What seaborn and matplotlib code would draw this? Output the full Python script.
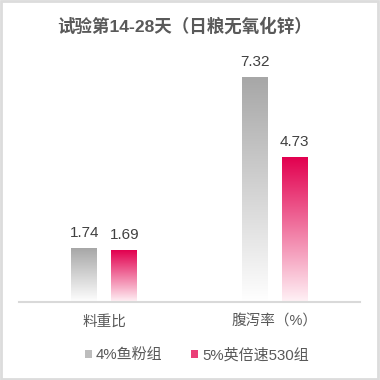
import numpy as np
import pandas as pd
import matplotlib
matplotlib.use("Agg")
import matplotlib.pyplot as plt
from matplotlib.colors import LinearSegmentedColormap
from matplotlib.patches import Rectangle, Patch
import seaborn as sns

title = "试验第14-28天（日粮无氧化锌）"
categories = ["料重比", "腹泻率（%）"]
series = ["4%鱼粉组", "5%英倍速530组"]
fishmeal = [1.74, 7.32]
yingbeisu = [1.69, 4.73]
value_labels_fish = ["1.74", "7.32"]
value_labels_ying = ["1.69", "4.73"]

df = pd.DataFrame({
    "cat": categories * 2,
    "group": [series[0]] * 2 + [series[1]] * 2,
    "val": fishmeal + yingbeisu,
})

sns.set_theme(style="white")
plt.rcParams['font.family'] = ['Liberation Sans', 'Noto Sans CJK SC', 'DejaVu Sans']

fig = plt.figure(figsize=(3.8, 3.8), dpi=100)
ax = fig.add_axes([19/380, 1 - 302/380, 341/380, 245/380])

top_colors = {series[0]: "#a7a7a7", series[1]: "#e2004f"}
bot_colors = {series[0]: "#ffffff", series[1]: "#fff2f6"}

sns.barplot(data=df, x="cat", y="val", hue="group", order=categories,
            hue_order=series, palette=top_colors, width=0.47, gap=0.36,
            ax=ax, legend=False, errorbar=None, saturation=1)

ax.set_xlim(-0.5, 1.5)
ax.set_ylim(0, 8)

bars = [p for p in ax.patches if isinstance(p, Rectangle) and p.get_height() > 0]
grad = np.linspace(1, 0, 256).reshape(-1, 1)
for p in bars:
    fc = p.get_facecolor()
    key = series[1] if fc[0] > fc[1] + 0.2 else series[0]
    cmap = LinearSegmentedColormap.from_list("g", [bot_colors[key], top_colors[key]])
    x0, y0 = p.get_x(), p.get_y()
    w, h = p.get_width(), p.get_height()
    ax.imshow(grad, cmap=cmap, extent=[x0, x0 + w, y0, y0 + h],
              aspect="auto", zorder=p.get_zorder() + 0.1, interpolation="bicubic")
    p.set_facecolor("none")
    p.set_edgecolor("none")

bars_sorted = sorted(bars, key=lambda p: p.get_x())
order_vals = [fishmeal[0], yingbeisu[0], fishmeal[1], yingbeisu[1]]
order_labels = [value_labels_fish[0], value_labels_ying[0], value_labels_fish[1], value_labels_ying[1]]
for p, v, lab in zip(bars_sorted, order_vals, order_labels):
    ax.annotate(lab, (p.get_x() + p.get_width() / 2, v), xytext=(0, 6),
                textcoords="offset points", ha="center", va="bottom",
                fontsize=11, color="#404040")

ax.set_xlabel("")
ax.set_ylabel("")
ax.set_yticks([])
ax.tick_params(axis="x", length=0, pad=9, labelsize=10.5, labelcolor="#595959")
for s in ["top", "left", "right"]:
    ax.spines[s].set_visible(False)
ax.spines["bottom"].set_color("#d9d9d9")
ax.spines["bottom"].set_linewidth(1.5)

fig.text(185/380, 1 - 26/380, title, ha="center", va="center",
         fontsize=12.6, fontweight="bold", color="#595959")

handles = [Patch(facecolor="#bdbdbd", edgecolor="none", label=series[0]),
           Patch(facecolor="#ea3f78", edgecolor="none", label=series[1])]
fig.legend(handles=handles, loc="center", bbox_to_anchor=(197/380, 1 - 355/380),
           ncol=2, frameon=False, fontsize=10.8, handlelength=0.45, handleheight=0.4,
           handletextpad=0.3, columnspacing=1.9, labelcolor="#595959")

fig.patches.append(Rectangle((0.002, 0.003), 0.993, 0.994, transform=fig.transFigure,
                             fill=False, edgecolor="#dcdcdc", linewidth=2))

fig.savefig("out.png", dpi=100)
